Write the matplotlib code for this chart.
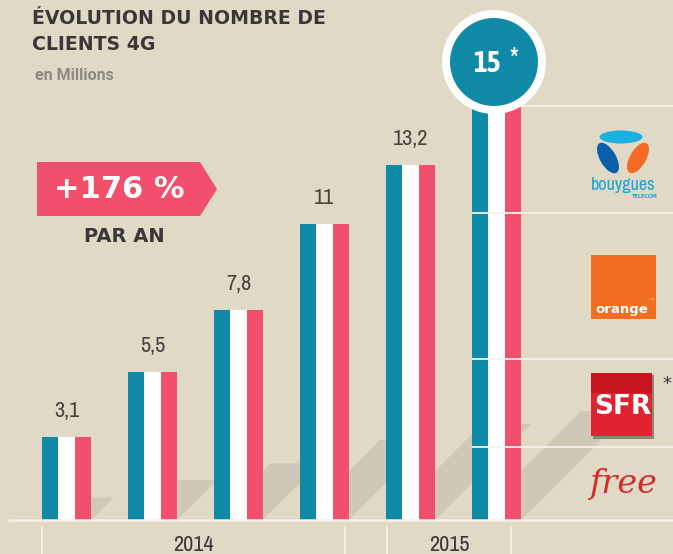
import numpy as np
import matplotlib
matplotlib.use("Agg")
import matplotlib.pyplot as plt
import matplotlib.transforms as mtransforms
from matplotlib.patches import Polygon, Circle, Ellipse, Rectangle
from matplotlib import font_manager

# data
values = [3.1, 5.5, 7.8, 11, 13.2, 15]
value_labels = ["3,1", "5,5", "7,8", "11", "13,2", "15"]
years = ["2014", "2015"]
# operator split of the last bar, bottom to top
operators = ["free", "SFR", "orange", "bouygues"]
operator_values = [2.7, 3.3, 5.4, 4.0]

# colours
BG = "#e0d9c6"
SHADOW = "#cfc8b6"
BLUE = "#1089a7"
PINK = "#f14f6c"
WHITE = "#ffffff"
LINE = "#f6f2e9"
DARK = "#3b3638"


def _w(w):
    if isinstance(w, str):
        return {"normal": 400, "regular": 400, "bold": 700}.get(w, 400)
    return w


# narrow sans faces installed, with their weights
narrow = {}
for f in font_manager.fontManager.ttflist:
    if ("Narrow" in f.name or "Condensed" in f.name) and "Serif" not in f.name and "Mono" not in f.name:
        narrow.setdefault(f.name, set()).add(_w(f.weight))

NFONT = dict(family="DejaVu Sans", fontstretch="condensed")
BFONT = dict(family="DejaVu Sans", fontstretch="condensed", fontweight="bold")
regular = [n for n, ws in narrow.items() if any(w <= 450 for w in ws)]
bolds = [n for n, ws in narrow.items() if any(w >= 600 for w in ws)]
if regular:
    NFONT = dict(family=sorted(regular)[0])
if bolds:
    BFONT = dict(family=sorted(bolds)[0], fontweight="bold")
HEAVY = "DejaVu Sans"

W, H = 673, 554
fig = plt.figure(figsize=(W / 100, H / 100), dpi=100)
fig.patch.set_facecolor(BG)
ax = fig.add_axes([0, 0, 1, 1])
ax.set_facecolor(BG)
ax.axis("off")

# 86 px between bars, 26.9 px per million, baseline 34 px above bottom
px_x, px_y = 86.0, 26.9
ax.set_xlim(-66.5 / px_x, (W - 66.5) / px_x)
ax.set_ylim(-34 / px_y, (H - 34) / px_y)

# pixel transform (top-left origin) for the decorations
PX = mtransforms.Affine2D().scale(1 / W, -1 / H).translate(0, 1) + fig.transFigure

x = np.arange(len(values))
bw = 49 / px_x
sw = bw / 3

# shadows
for xi, v in zip(x, values):
    sy = 0.27 * v
    sx = sy * px_y / px_x
    left, right = xi - bw / 2, xi + bw / 2
    ax.add_patch(Polygon([(left, 0), (right, 0), (right + sx, sy), (left + sx, sy)],
                         closed=True, facecolor=SHADOW, edgecolor="none", zorder=1))

# first five bars
for xi, v in zip(x[:-1], values[:-1]):
    for off, col in zip([-sw, 0, sw], [BLUE, WHITE, PINK]):
        ax.bar(xi + off, v, width=sw, color=col, linewidth=0, zorder=2)

# last bar stacked by operator
bottoms = np.concatenate([[0], np.cumsum(operator_values)[:-1]])
for off, col in zip([-sw, 0, sw], [BLUE, WHITE, PINK]):
    ax.bar(x[-1] + off, operator_values, bottom=bottoms, width=sw, color=col,
           linewidth=0, zorder=2)
tops = np.cumsum(operator_values)
ax.hlines(tops, x[-1] - bw / 2, ax.get_xlim()[1], colors=LINE, linewidth=1.3, zorder=3)

# baseline
ax.hlines(0, -58.5 / px_x, ax.get_xlim()[1], colors=LINE, linewidth=1.8, zorder=3)

# value labels
for xi, v, lab in zip(x[:-1], values[:-1], value_labels[:-1]):
    ax.annotate(lab, (xi, v), xytext=(0, 26), textcoords="offset pixels",
                ha="center", va="center", fontsize=16, color="#47413f", zorder=5, **NFONT)

# circle badge for the last value
ax.add_patch(Circle((494, 62), 52, transform=PX, facecolor=WHITE, edgecolor="none", zorder=4))
ax.add_patch(Circle((494, 62), 44, transform=PX, facecolor=BLUE, edgecolor="none", zorder=4))
ax.text(487, 64, value_labels[-1], transform=PX, ha="center", va="center", fontsize=21,
        color=WHITE, zorder=5, **BFONT)
ax.text(514, 60, "*", transform=PX, ha="center", va="center", fontsize=21,
        color=WHITE, zorder=5, **BFONT)

# title
ax.text(32, 18, "ÉVOLUTION DU NOMBRE DE", transform=PX, ha="left", va="center",
        fontsize=13.6, family=HEAVY, fontweight="bold", color=DARK)
ax.text(32, 44, "CLIENTS 4G", transform=PX, ha="left", va="center",
        fontsize=13.6, family=HEAVY, fontweight="bold", color=DARK)
ax.text(35, 76, "en Millions", transform=PX, ha="left", va="center",
        fontsize=11.5, family="Roboto", fontweight="bold", color="#8c8982")

# growth banner
ax.add_patch(Polygon([(37, 162), (200, 162), (217, 189), (200, 216), (37, 216)],
                     closed=True, transform=PX, facecolor=PINK, edgecolor="none", zorder=4))
ax.text(119, 190, "+176 %", transform=PX, ha="center", va="center", fontsize=22,
        family=HEAVY, fontweight="bold", color=WHITE, zorder=5)
ax.text(124, 236, "PAR AN", transform=PX, ha="center", va="center", fontsize=14,
        family=HEAVY, fontweight="bold", color=DARK, zorder=5)

# year brackets
for xs in [42, 345, 387, 511]:
    ax.plot([xs, xs], [527, 554], transform=PX, color=LINE, linewidth=1.3, zorder=3)
for xc, yr in zip([193, 449], years):
    ax.text(xc, 545, yr, transform=PX, ha="center", va="center", fontsize=16,
            color=DARK, **NFONT)

# operator logos
ax.add_patch(Ellipse((621, 137), 43, 13, transform=PX, facecolor="#1ab0e0", edgecolor="none"))
ax.add_patch(Ellipse((608, 158), 16, 34, angle=-30, transform=PX, facecolor="#0b5fab", edgecolor="none"))
ax.add_patch(Ellipse((638, 158), 16, 34, angle=30, transform=PX, facecolor="#f26a24", edgecolor="none"))
ax.text(623, 185, "bouygues", transform=PX, ha="center", va="center", fontsize=13,
        color="#1aa3d4", **NFONT)
ax.text(645, 196, "TELECOM", transform=PX, ha="center", va="center", fontsize=3.5,
        family="DejaVu Sans", fontweight="bold", color="#1aa3d4")

ax.add_patch(Rectangle((591, 255), 65, 64, transform=PX, facecolor="#f26f21", edgecolor="none"))
ax.text(595, 310, "orange", transform=PX, ha="left", va="center", fontsize=9.5,
        family="DejaVu Sans", fontweight="bold", color=WHITE)
ax.text(649, 301, "™", transform=PX, ha="left", va="center", fontsize=3.5,
        family="DejaVu Sans", color=WHITE)

ax.add_patch(Rectangle((593, 375), 61, 64, transform=PX, facecolor="#8a857c", edgecolor="none"))
ax.add_patch(Rectangle((591, 373), 61, 63, transform=PX, facecolor="#e0232e", edgecolor="none"))
ax.add_patch(Rectangle((591, 373), 61, 20, transform=PX, facecolor="#b00d16", edgecolor="none", alpha=0.55))
ax.text(651, 407, "SFR", transform=PX, ha="right", va="center", fontsize=19,
        family="DejaVu Sans", fontweight="bold", color=WHITE)
ax.text(667, 384, "*", transform=PX, ha="center", va="center", fontsize=13, color=DARK)

ax.text(623, 484, "free", transform=PX, ha="center", va="center", fontsize=24,
        family="DejaVu Serif", style="italic", color="#d42b2e")

fig.savefig("out.png", dpi=100, facecolor=BG)
